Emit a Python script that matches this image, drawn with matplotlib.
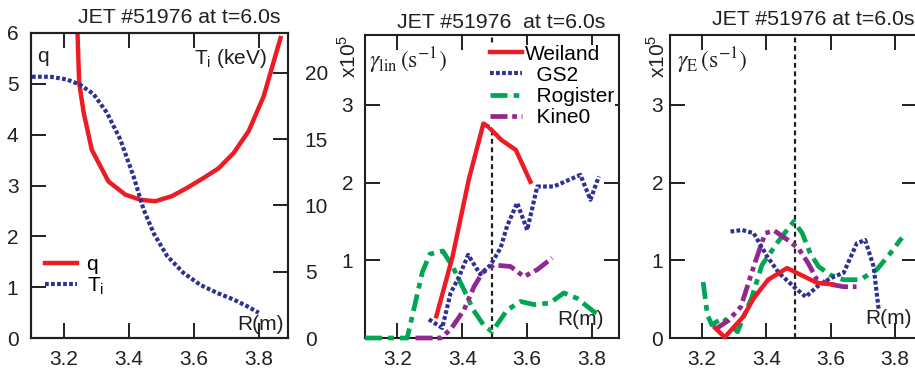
import matplotlib
matplotlib.use("Agg")
import matplotlib.pyplot as plt

plt.rcParams['font.family'] = ['Liberation Sans', 'DejaVu Sans']

# ---------------- data ----------------
# Panel 1: safety factor q and ion temperature Ti vs R
q_R = [3.243, 3.248, 3.262, 3.287, 3.338, 3.390, 3.436, 3.482, 3.533, 3.579,
       3.631, 3.677, 3.723, 3.769, 3.815, 3.867]
q_val = [6.0, 5.02, 4.43, 3.70, 3.08, 2.82, 2.72, 2.69, 2.79, 2.95,
         3.15, 3.34, 3.64, 4.07, 4.75, 5.90]
Ti_R = [3.103, 3.159, 3.210, 3.251, 3.292, 3.333, 3.374, 3.415, 3.446, 3.477,
        3.518, 3.569, 3.621, 3.672, 3.723, 3.764, 3.800]
Ti_val = [19.7, 19.7, 19.5, 19.1, 18.4, 17.0, 15.0, 12.2, 9.7, 7.9,
          6.2, 4.9, 4.0, 3.4, 2.9, 2.4, 1.9]

# Panel 2: linear growth rates (x1e5 s^-1)
wei_R = [3.32, 3.37, 3.42, 3.465, 3.48, 3.52, 3.565, 3.61]
wei_g = [0.28, 1.05, 2.04, 2.76, 2.72, 2.55, 2.42, 2.01]
gs2_R = [3.297, 3.338, 3.364, 3.390, 3.418, 3.455, 3.487, 3.518, 3.538, 3.569,
         3.600, 3.631, 3.682, 3.764, 3.795, 3.821]
gs2_g = [0.24, 0.13, 0.58, 0.79, 1.07, 0.82, 0.94, 1.16, 1.44, 1.74,
         1.39, 1.95, 1.95, 2.10, 1.78, 2.08]
rog_R = [3.10, 3.23, 3.25, 3.277, 3.30, 3.34, 3.37, 3.403, 3.434, 3.465,
         3.492, 3.538, 3.580, 3.621, 3.67, 3.713, 3.754, 3.805, 3.826]
rog_g = [0.0, 0.0, 0.36, 0.85, 1.08, 1.12, 0.92, 0.64, 0.36, 0.17,
         0.08, 0.36, 0.47, 0.43, 0.45, 0.58, 0.51, 0.34, 0.30]
kin_R = [3.256, 3.333, 3.364, 3.405, 3.436, 3.462, 3.497, 3.549, 3.590, 3.631, 3.677]
kin_g = [0.0, 0.0, 0.11, 0.36, 0.66, 0.84, 0.94, 0.92, 0.79, 0.88, 1.03]

# Panel 3: ExB shearing rates (x1e5 s^-1)
wei3_R = [3.24, 3.27, 3.327, 3.36, 3.405, 3.464, 3.557, 3.604]
wei3_g = [0.13, 0.01, 0.27, 0.51, 0.75, 0.90, 0.71, 0.69]
gs23_R = [3.288, 3.324, 3.360, 3.402, 3.438, 3.485, 3.522, 3.557, 3.599, 3.640,
          3.681, 3.707, 3.733, 3.749]
gs23_g = [1.37, 1.39, 1.35, 1.05, 0.84, 0.66, 0.53, 0.66, 0.77, 0.84,
          1.22, 1.26, 0.92, 0.36]
kin3_R = [3.24, 3.28, 3.32, 3.365, 3.396, 3.425, 3.47, 3.50, 3.53, 3.557,
          3.60, 3.64, 3.68]
kin3_g = [0.11, 0.22, 0.40, 0.98, 1.35, 1.38, 1.25, 1.15, 0.96, 0.75,
          0.69, 0.66, 0.66]
rog3_R = [3.203, 3.216, 3.23, 3.265, 3.31, 3.355, 3.386, 3.436, 3.464, 3.485,
          3.511, 3.536, 3.562, 3.599, 3.640, 3.691, 3.743, 3.785, 3.821]
rog3_g = [0.72, 0.30, 0.17, 0.26, 0.08, 0.53, 0.94, 1.24, 1.39, 1.50,
          1.35, 1.09, 0.92, 0.81, 0.75, 0.75, 0.88, 1.09, 1.29]

R_ref = 3.49
x_ticks = [3.2, 3.4, 3.6, 3.8]
x_ticklabels = ['3.2', '3.4', '3.6', '3.8']
title1 = 'JET #51976 at t=6.0s'
title2 = 'JET #51976  at t=6.0s'

# ---------------- style ----------------
RED = '#ed1c24'
BLUE = '#2e3192'
GREEN = '#00a651'
PURPLE = '#92278f'
DARK = '#231f20'
FS = 15
TFS = 15.3
TL = 10.8

fig = plt.figure(figsize=(9.15, 3.73), dpi=100)
ax1 = fig.add_axes([31/915, 35/373, 257/915, 305/373])
ax2 = fig.add_axes([365/915, 35/373, 254/915, 303/373])
ax3 = fig.add_axes([670/915, 35/373, 247/915, 303/373])

def style(ax, left=True, right=True):
    for s in ax.spines.values():
        s.set_linewidth(1.5)
        s.set_color(DARK)
    ax.tick_params(direction='in', length=TL, width=1.4, color=DARK,
                   labelsize=FS, labelcolor=DARK, top=True, right=right,
                   left=left)
    ax.set_xticks(x_ticks)
    ax.set_xticklabels(x_ticklabels)
    ax.tick_params(axis='x', pad=8.5)

dot = (0, (0.9, 0.55))
dashdot = (0, (3.6, 1.3, 1.2, 1.3))
dashdotdot = (0, (3.6, 1.0, 1.0, 1.0, 1.0, 1.0))

# ---- Panel 1 ----
style(ax1, right=False)
ax1.set_xlim(3.1, 3.89)
ax1.set_ylim(0, 6)
ax1.set_yticks([0, 1, 2, 3, 4, 5, 6])
ax1.tick_params(axis='y', pad=9)
lq, = ax1.plot(q_R, q_val, color=RED, lw=3.2, label='q')
ax1b = ax1.twinx()
ax1b.set_ylim(0, 23)
ax1b.set_yticks([0, 5, 10, 15, 20])
ax1b.tick_params(direction='in', length=TL, width=1.4, color=DARK,
                 labelsize=FS, labelcolor=DARK, pad=12)
for s in ax1b.spines.values():
    s.set_linewidth(1.5)
    s.set_color(DARK)
lt, = ax1b.plot(Ti_R, Ti_val, color=BLUE, lw=3.0, linestyle=dot, label='T$_\\mathregular{i}$')
ax1.legend(handles=[lq, lt], loc='upper left', bbox_to_anchor=(0.054, 0.272),
           frameon=False, fontsize=FS, handlelength=1.55, handletextpad=0.45,
           labelspacing=0.05, borderpad=0.0, borderaxespad=0.0)
ax1.text(0.023, 0.955, 'q', transform=ax1.transAxes, fontsize=FS, ha='left', va='top', color=DARK)
ax1.text(0.92, 0.955, 'T$_\\mathregular{i}$ (keV)', transform=ax1.transAxes, fontsize=FS,
         ha='right', va='top', color=DARK)
ax1.text(0.985, 0.012, 'R(m)', transform=ax1.transAxes, fontsize=FS, ha='right',
         va='bottom', color=DARK)

# ---- Panel 2 ----
style(ax2)
ax2.set_xlim(3.1, 3.883)
ax2.set_ylim(0, 3.9)
ax2.set_yticks([0, 1, 2, 3])
ax2.set_yticklabels(['', '1', '2', '3'])
ax2.tick_params(axis='y', pad=8.5)
ax2.axvline(R_ref, color=DARK, lw=1.6, linestyle=(0, (2.2, 1.6)), zorder=1)
ax2.plot(rog_R, rog_g, color=GREEN, lw=3.4, linestyle=dashdot, label='Rogister',
         clip_on=False, zorder=3)
ax2.plot(kin_R, kin_g, color=PURPLE, lw=3.4, linestyle=dashdotdot, label='Kine0',
         clip_on=False, zorder=3)
ax2.plot(gs2_R, gs2_g, color=BLUE, lw=3.0, linestyle=dot, label='GS2', zorder=3)
ax2.plot(wei_R, wei_g, color=RED, lw=3.2, label='Weiland', zorder=3)
h, l = ax2.get_legend_handles_labels()
order = [3, 2, 0, 1]
leg = ax2.legend([h[i] for i in order], ['Weiland', '  GS2', '  Rogister', '  Kine0'],
                 loc='upper left', bbox_to_anchor=(0.492, 0.968), frameon=True,
                 fontsize=FS, handlelength=1.55, handletextpad=0.15,
                 labelspacing=0.1, borderpad=0.0, borderaxespad=0.0, fancybox=False)
leg.get_frame().set_facecolor('white')
leg.get_frame().set_edgecolor('none')
leg.get_frame().set_alpha(1.0)
leg.set_zorder(5)
ax2.text(0.015, 0.965, r'$\gamma_{\rm lin}\,({\rm s}^{-1})$', transform=ax2.transAxes,
         fontsize=17, ha='left', va='top', color=DARK, math_fontfamily='stix')
ax2.text(0.94, 0.03, 'R(m)', transform=ax2.transAxes, fontsize=FS, ha='right',
         va='bottom', color=DARK)
ax2.text(-0.065, 0.93, 'x10$^\\mathregular{5}$', transform=ax2.transAxes, fontsize=FS,
         rotation=90, ha='center', va='center', color=DARK)

# ---- Panel 3 ----
style(ax3)
ax3.set_xlim(3.1, 3.868)
ax3.set_ylim(0, 3.9)
ax3.set_yticks([0, 1, 2, 3])
ax3.tick_params(axis='y', pad=5)
ax3.axvline(R_ref, color=DARK, lw=1.6, linestyle=(0, (2.2, 1.6)), zorder=1)
ax3.plot(rog3_R, rog3_g, color=GREEN, lw=3.4, linestyle=dashdot, zorder=3)
ax3.plot(kin3_R, kin3_g, color=PURPLE, lw=3.4, linestyle=dashdotdot, zorder=3)
ax3.plot(gs23_R, gs23_g, color=BLUE, lw=3.0, linestyle=dot, zorder=3)
ax3.plot(wei3_R, wei3_g, color=RED, lw=3.2, zorder=3, clip_on=False)
ax3.text(0.03, 0.965, r'$\gamma_{\rm E}\,({\rm s}^{-1})$', transform=ax3.transAxes,
         fontsize=17, ha='left', va='top', color=DARK, math_fontfamily='stix')
ax3.text(0.98, 0.033, 'R(m)', transform=ax3.transAxes, fontsize=FS, ha='right',
         va='bottom', color=DARK)
ax3.text(-0.052, 0.93, 'x10$^\\mathregular{5}$', transform=ax3.transAxes, fontsize=FS,
         rotation=90, ha='center', va='center', color=DARK)

# titles
fig.text(78/915, 1 - 23/373, title1, fontsize=TFS, ha='left', va='baseline', color=DARK)
fig.text(397/915, 1 - 28/373, title2, fontsize=TFS, ha='left', va='baseline', color=DARK)
fig.text(712/915, 1 - 25/373, title1, fontsize=TFS, ha='left', va='baseline', color=DARK)

fig.savefig('out.png', dpi=100)
